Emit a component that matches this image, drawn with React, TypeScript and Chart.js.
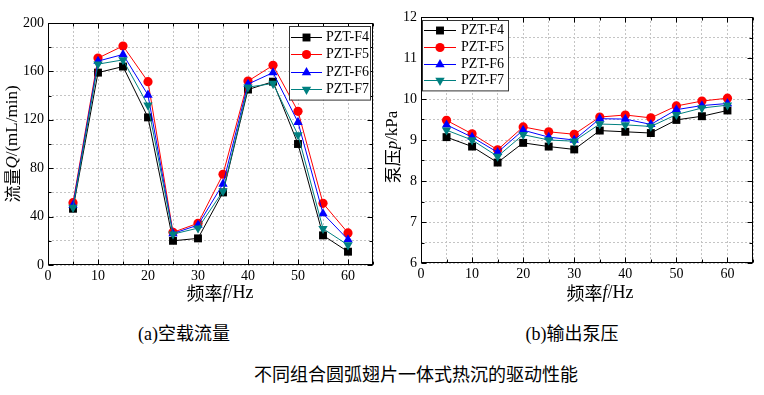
import React, { useEffect, useRef } from 'react';
import { Chart, registerables } from 'chart.js';
import { drawPoint } from 'chart.js/helpers';

Chart.register(...registerables);

const freq = [5, 10, 15, 20, 25, 30, 35, 40, 45, 50, 55, 60];
const seriesNames = ['PZT-F4', 'PZT-F5', 'PZT-F6', 'PZT-F7'];

const flowF4 = [46.5, 159, 164, 122, 20, 22, 60, 145, 151.5, 100, 24.5, 11];
const flowF5 = [51.5, 171, 181, 151.5, 27, 34.5, 75, 152, 165, 127, 51, 26.5];
const flowF6 = [49.5, 168.5, 174, 140.5, 26, 33, 67, 149.5, 159, 118, 42.5, 21];
const flowF7 = [47.5, 166, 169.5, 132, 25.5, 30.5, 61, 147, 150, 107.5, 30, 16.5];

const presF4 = [9.07, 8.84, 8.45, 8.93, 8.84, 8.77, 9.23, 9.2, 9.17, 9.49, 9.58, 9.72];
const presF5 = [9.48, 9.15, 8.76, 9.32, 9.2, 9.14, 9.56, 9.61, 9.54, 9.83, 9.95, 10.02];
const presF6 = [9.37, 9.07, 8.7, 9.24, 9.07, 9.0, 9.52, 9.51, 9.38, 9.74, 9.84, 9.89];
const presF7 = [9.24, 9.0, 8.6, 9.13, 9.0, 8.97, 9.39, 9.37, 9.33, 9.62, 9.78, 9.85];

const xMin = 0, xMax = 65, xStep = 5, xLabelEvery = 10;
const flowMin = 0, flowMax = 200, flowStep = 20, flowLabelEvery = 40;
const presMin = 6, presMax = 12, presStep = 0.5, presLabelEvery = 1;

const colors = ['#000000', '#ff0000', '#0000ff', '#008080'];
const pointStyles = ['rect', 'circle', 'triangle', 'triangle'];
const pointRots = [0, 0, 0, 180];
const pointRadii = [5.6, 4.6, 5.4, 5.4];

const SERIF = '"Liberation Serif", "Times New Roman", serif';
const CJK = '"Noto Sans CJK SC", sans-serif';

type Part = { t: string; f: string };

function drawParts(ctx: CanvasRenderingContext2D, parts: Part[], cx: number, cy: number, rot: number) {
  ctx.save();
  ctx.translate(cx, cy);
  ctx.rotate(rot);
  let total = 0;
  const widths = parts.map((p) => {
    ctx.font = p.f;
    const w = ctx.measureText(p.t).width;
    total += w;
    return w;
  });
  let x = -total / 2;
  ctx.fillStyle = '#000';
  ctx.textBaseline = 'middle';
  ctx.textAlign = 'left';
  parts.forEach((p, i) => {
    ctx.font = p.f;
    ctx.fillText(p.t, x, 0);
    x += widths[i];
  });
  ctx.restore();
}

function isMult(v: number, m: number) {
  const r = Math.abs(v / m - Math.round(v / m));
  return r < 1e-6;
}

type Cfg = {
  series: number[][];
  yMin: number; yMax: number; yStep: number; yLabelEvery: number;
  yAxisWidth: number; xAxisHeight: number;
  padTop: number; padRight: number;
  yTitle: Part[]; yTitleX: number; yTitleY: number;
  xTitleX: number; xTitleY: number;
  legendX: number; legendY: number; legendW: number; legendRowH: number;
  legendLine: number; legendTextGap: number;
};

function makeChart(canvas: HTMLCanvasElement, c: Cfg) {
  const datasets = c.series.map((vals, i) => ({
    label: seriesNames[i],
    data: freq.map((f, j) => ({ x: f, y: vals[j] })),
    borderColor: colors[i],
    backgroundColor: colors[i],
    borderWidth: 1,
    pointStyle: pointStyles[i] as any,
    pointRotation: pointRots[i],
    pointRadius: pointRadii[i],
    pointBorderWidth: 0,
    pointBackgroundColor: colors[i],
    tension: 0,
    order: 10 - i,
  }));

  const framePlugin = {
    id: 'frameTicks',
    afterDraw(chart: any) {
      const ctx = chart.ctx as CanvasRenderingContext2D;
      const ca = chart.chartArea;
      const xs = chart.scales.x;
      const ys = chart.scales.y;
      const L = Math.round(ca.left) + 0.5, R = Math.round(ca.right) - 0.5;
      const T = Math.round(ca.top) + 0.5, B = Math.round(ca.bottom) - 0.5;
      ctx.save();
      ctx.strokeStyle = '#000';
      ctx.lineWidth = 1;
      ctx.setLineDash([]);
      ctx.strokeRect(L, T, R - L, B - T);
      ctx.beginPath();
      xs.ticks.forEach((t: any) => {
        const px = Math.round(xs.getPixelForValue(t.value)) + 0.5;
        const len = isMult(t.value, xLabelEvery) ? 5 : 3;
        ctx.moveTo(px, B); ctx.lineTo(px, B - len);
        ctx.moveTo(px, T); ctx.lineTo(px, T + len);
      });
      ys.ticks.forEach((t: any) => {
        const py = Math.round(ys.getPixelForValue(t.value)) + 0.5;
        const len = isMult(t.value, c.yLabelEvery) ? 5 : 3;
        ctx.moveTo(L, py); ctx.lineTo(L + len, py);
        ctx.moveTo(R, py); ctx.lineTo(R - len, py);
      });
      ctx.stroke();
      ctx.restore();

      // axis titles
      drawParts(ctx, c.yTitle, c.yTitleX, c.yTitleY, -Math.PI / 2);
      drawParts(ctx, [
        { t: '频率', f: `18px ${CJK}` },
        { t: 'f', f: `italic 18px ${SERIF}` },
        { t: '/Hz', f: `18px ${SERIF}` },
      ], c.xTitleX, c.xTitleY, 0);

      // legend
      const n = seriesNames.length;
      const h = c.legendRowH * n + 4;
      ctx.save();
      ctx.fillStyle = '#fff';
      ctx.fillRect(c.legendX, c.legendY, c.legendW, h);
      ctx.strokeStyle = '#333';
      ctx.lineWidth = 1;
      ctx.strokeRect(c.legendX + 0.5, c.legendY + 0.5, c.legendW, h);
      ctx.font = `14px ${SERIF}`;
      ctx.textBaseline = 'middle';
      ctx.textAlign = 'left';
      seriesNames.forEach((name, i) => {
        const y = c.legendY + 2 + c.legendRowH * (i + 0.5);
        const x1 = c.legendX + 2;
        const x2 = x1 + c.legendLine;
        ctx.strokeStyle = colors[i];
        ctx.lineWidth = 1;
        ctx.beginPath();
        ctx.moveTo(x1, Math.round(y) + 0.5);
        ctx.lineTo(x2, Math.round(y) + 0.5);
        ctx.stroke();
        ctx.fillStyle = colors[i];
        drawPoint(ctx, {
          pointStyle: pointStyles[i] as any,
          rotation: pointRots[i],
          radius: pointRadii[i],
          borderWidth: 0,
        } as any, (x1 + x2) / 2, Math.round(y) + 0.5);
        ctx.fillStyle = '#000';
        ctx.fillText(name, x2 + c.legendTextGap, y + 0.5);
      });
      ctx.restore();
    },
  };

  return new Chart(canvas, {
    type: 'line',
    data: { datasets: datasets as any },
    options: {
      animation: false,
      responsive: false,
      devicePixelRatio: 1,
      layout: { padding: { top: c.padTop, right: c.padRight, left: 0, bottom: 0 } },
      plugins: { legend: { display: false }, tooltip: { enabled: false }, title: { display: false } },
      scales: {
        x: {
          type: 'linear',
          min: xMin,
          max: xMax,
          afterFit: (s: any) => { s.height = c.xAxisHeight; },
          ticks: {
            stepSize: xStep,
            autoSkip: false,
            maxRotation: 0,
            padding: 3,
            color: '#000',
            font: { family: SERIF, size: 14 },
            callback: (v: any) => (isMult(Number(v), xLabelEvery) && Number(v) <= 60 ? String(v) : ''),
          },
          grid: { color: '#c4c4c4', lineWidth: 1, drawTicks: false },
          border: { display: false, dash: [2, 2] },
        },
        y: {
          type: 'linear',
          min: c.yMin,
          max: c.yMax,
          afterFit: (s: any) => { s.width = c.yAxisWidth; },
          ticks: {
            stepSize: c.yStep,
            autoSkip: false,
            padding: 4,
            color: '#000',
            font: { family: SERIF, size: 14 },
            callback: (v: any) => (isMult(Number(v), c.yLabelEvery) ? String(Number(v)) : ''),
          },
          grid: { color: '#c4c4c4', lineWidth: 1, drawTicks: false },
          border: { display: false, dash: [2, 2] },
        },
      },
    },
    plugins: [framePlugin],
  });
}

export default function App() {
  const leftRef = useRef<HTMLCanvasElement>(null);
  const rightRef = useRef<HTMLCanvasElement>(null);

  useEffect(() => {
    const c1 = makeChart(leftRef.current!, {
      series: [flowF4, flowF5, flowF6, flowF7],
      yMin: flowMin, yMax: flowMax, yStep: flowStep, yLabelEvery: flowLabelEvery,
      yAxisWidth: 48, xAxisHeight: 45, padTop: 23, padRight: 7,
      yTitle: [
        { t: '流量', f: `17px ${CJK}` },
        { t: 'Q', f: `italic 17px ${SERIF}` },
        { t: '/(mL/min)', f: `17px ${SERIF}` },
      ],
      yTitleX: 13, yTitleY: 144,
      xTitleX: 220, xTitleY: 293,
      legendX: 289, legendY: 26, legendW: 81, legendRowH: 17.4,
      legendLine: 31, legendTextGap: 4,
    });
    const c2 = makeChart(rightRef.current!, {
      series: [presF4, presF5, presF6, presF7],
      yMin: presMin, yMax: presMax, yStep: presStep, yLabelEvery: presLabelEvery,
      yAxisWidth: 41, xAxisHeight: 47, padTop: 17, padRight: 11,
      yTitle: [
        { t: '泵压', f: `17px ${CJK}` },
        { t: 'p', f: `italic 17px ${SERIF}` },
        { t: '/kPa', f: `17px ${SERIF}` },
      ],
      yTitleX: 13, yTitleY: 147,
      xTitleX: 220, xTitleY: 293,
      legendX: 42, legendY: 20, legendW: 86, legendRowH: 16.6,
      legendLine: 32, legendTextGap: 5,
    });
    return () => { c1.destroy(); c2.destroy(); };
  }, []);

  const cap: React.CSSProperties = {
    position: 'absolute',
    width: 300,
    textAlign: 'center',
    fontFamily: `${SERIF.split(',')[0]}, "Noto Sans CJK SC", serif`,
    fontSize: 18,
    lineHeight: '22px',
    color: '#000',
    whiteSpace: 'nowrap',
  };

  return (
    <div style={{ position: 'absolute', left: 0, top: 0, width: 764, height: 395, background: '#fff', overflow: 'hidden' }}>
      <canvas ref={leftRef} width={380} height={310} style={{ position: 'absolute', left: 0, top: 0, width: 380, height: 310 }} />
      <canvas ref={rightRef} width={384} height={310} style={{ position: 'absolute', left: 380, top: 0, width: 384, height: 310 }} />
      <div style={{ ...cap, left: 184 - 150, top: 334 - 11 }}>(a)空载流量</div>
      <div style={{ ...cap, left: 572 - 150, top: 334 - 11 }}>(b)输出泵压</div>
      <div style={{ ...cap, left: 404 - 150, top: 375 - 11 }}>不同组合圆弧翅片一体式热沉的驱动性能</div>
    </div>
  );
}
